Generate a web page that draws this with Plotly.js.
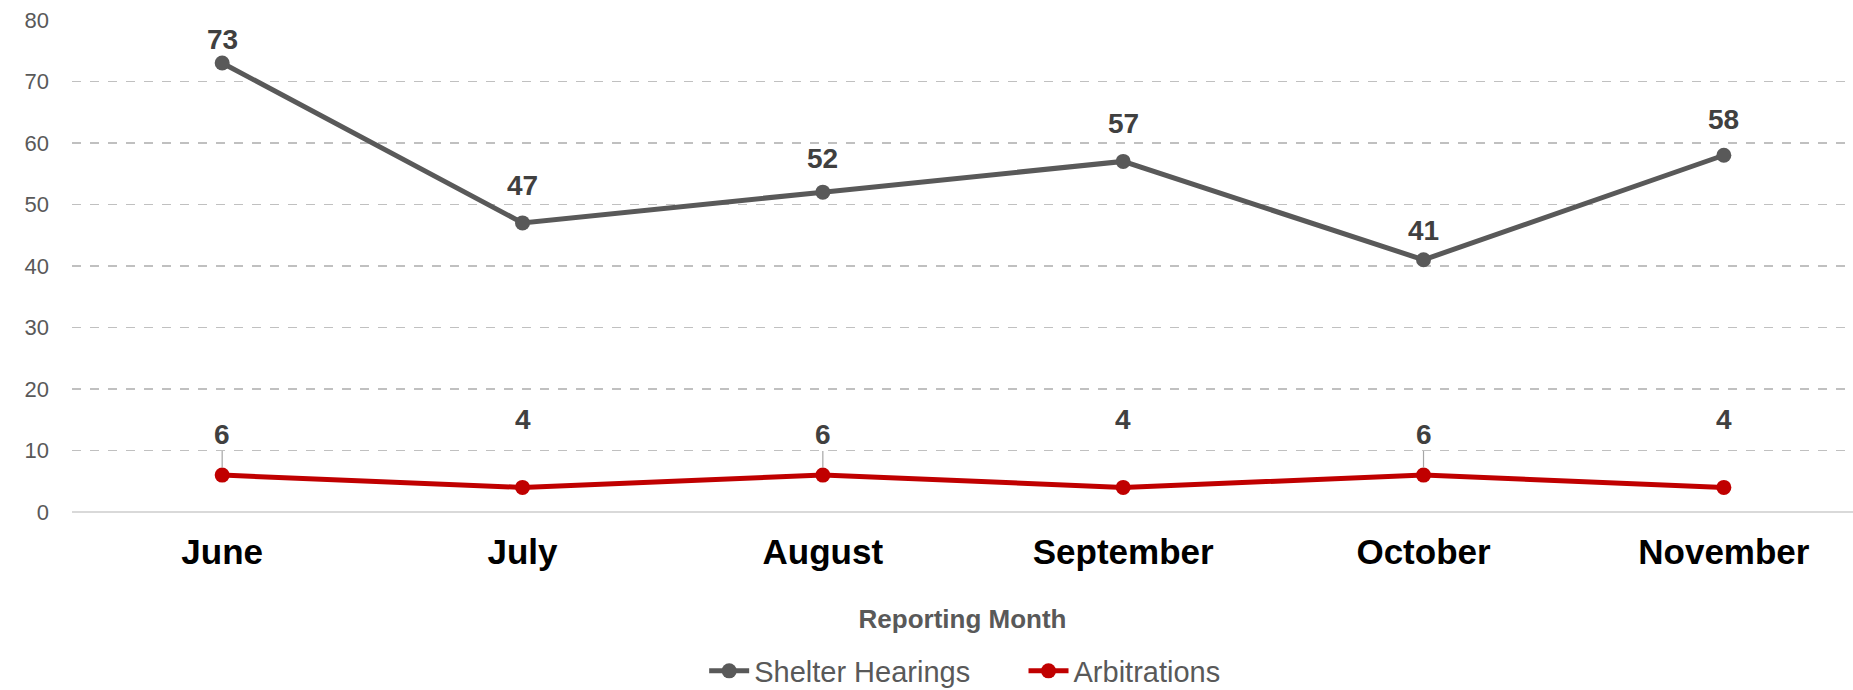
<!DOCTYPE html>
<html>
<head>
<meta charset="utf-8">
<script src="https://cdn.plot.ly/plotly-3.0.1.min.js"></script>
<style>html,body{margin:0;padding:0;background:#fff;}#chart{width:1853px;height:690px;}</style>
</head>
<body>
<div id="chart"></div>
<script>
const months = ["June", "July", "August", "September", "October", "November"];
const shelterHearings = [73, 47, 52, 57, 41, 58];
const arbitrations = [6, 4, 6, 4, 6, 4];
const yTicks = [0, 10, 20, 30, 40, 50, 60, 70, 80];

// label placement (pixel offsets above each marker), styling only
const shelterLabelShift = [23, 37, 34, 38, 29, 36];
const arbLabelShift = [41, 68, 41, 68, 41, 68];
const arbLeader = [true, false, true, false, true, false];

const FONT = "Liberation Sans, Arial, sans-serif";
const NB = "\u00A0";

const traces = [
  {
    x: months, y: shelterHearings, name: "Shelter Hearings" + NB.repeat(6),
    type: "scatter", mode: "lines+markers",
    line: {color: "#595959", width: 5},
    marker: {color: "#595959", size: 15},
    cliponaxis: false, hoverinfo: "x+y"
  },
  {
    x: months, y: arbitrations, name: "Arbitrations",
    type: "scatter", mode: "lines+markers",
    line: {color: "#C00000", width: 5},
    marker: {color: "#C00000", size: 15},
    cliponaxis: false, hoverinfo: "x+y"
  }
];

const shelterAnn = months.map((m, i) => ({
  x: m, y: shelterHearings[i], xref: "x", yref: "y",
  text: "<b>" + shelterHearings[i] + "</b>",
  showarrow: false, yshift: shelterLabelShift[i],
  font: {family: FONT, size: 28, color: "#404040"}
}));

const arbAnn = months.map((m, i) => arbLeader[i] ? ({
  x: m, y: arbitrations[i], xref: "x", yref: "y",
  text: "<b>" + arbitrations[i] + "</b>",
  showarrow: true, arrowhead: 0, arrowwidth: 1.2, arrowcolor: "#A6A6A6",
  ax: 0, ay: -arbLabelShift[i], standoff: 7,
  font: {family: FONT, size: 28, color: "#404040"}
}) : ({
  x: m, y: arbitrations[i], xref: "x", yref: "y",
  text: "<b>" + arbitrations[i] + "</b>",
  showarrow: false, yshift: arbLabelShift[i],
  font: {family: FONT, size: 28, color: "#404040"}
}));

const layout = {
  width: 1853, height: 690,
  margin: {l: 72, r: 0, t: 19, b: 178, autoexpand: false},
  paper_bgcolor: "#ffffff", plot_bgcolor: "#ffffff",
  font: {family: FONT},
  showlegend: true,
  legend: {
    orientation: "h", x: 0.5015, xanchor: "center", y: -0.3225, yanchor: "middle",
    font: {family: FONT, size: 29, color: "#595959"},
    itemwidth: 40, tracegroupgap: 0
  },
  xaxis: {
    type: "category", range: [-0.5, 5.43],
    showgrid: false, showline: false, zeroline: false, ticks: "",
    tickfont: {family: FONT, size: 35, color: "#000000", weight: "bold"},
    ticklabelstandoff: 16,
    title: {text: "<b>Reporting Month</b>", font: {family: FONT, size: 26, color: "#595959"}, standoff: 39},
    fixedrange: true
  },
  yaxis: {
    range: [0, 80.15], tickvals: yTicks, ticktext: yTicks.map(String),
    showgrid: true, gridcolor: "#C0C0C0", gridwidth: 1.5, griddash: "dash",
    zeroline: true, zerolinecolor: "#D9D9D9", zerolinewidth: 2,
    showline: false, ticks: "",
    tickfont: {family: FONT, size: 22, color: "#595959"},
    ticklabelstandoff: 22,
    fixedrange: true
  },
  annotations: shelterAnn.concat(arbAnn)
};

Plotly.newPlot("chart", traces, layout, {displayModeBar: false, staticPlot: true});
</script>
</body>
</html>
